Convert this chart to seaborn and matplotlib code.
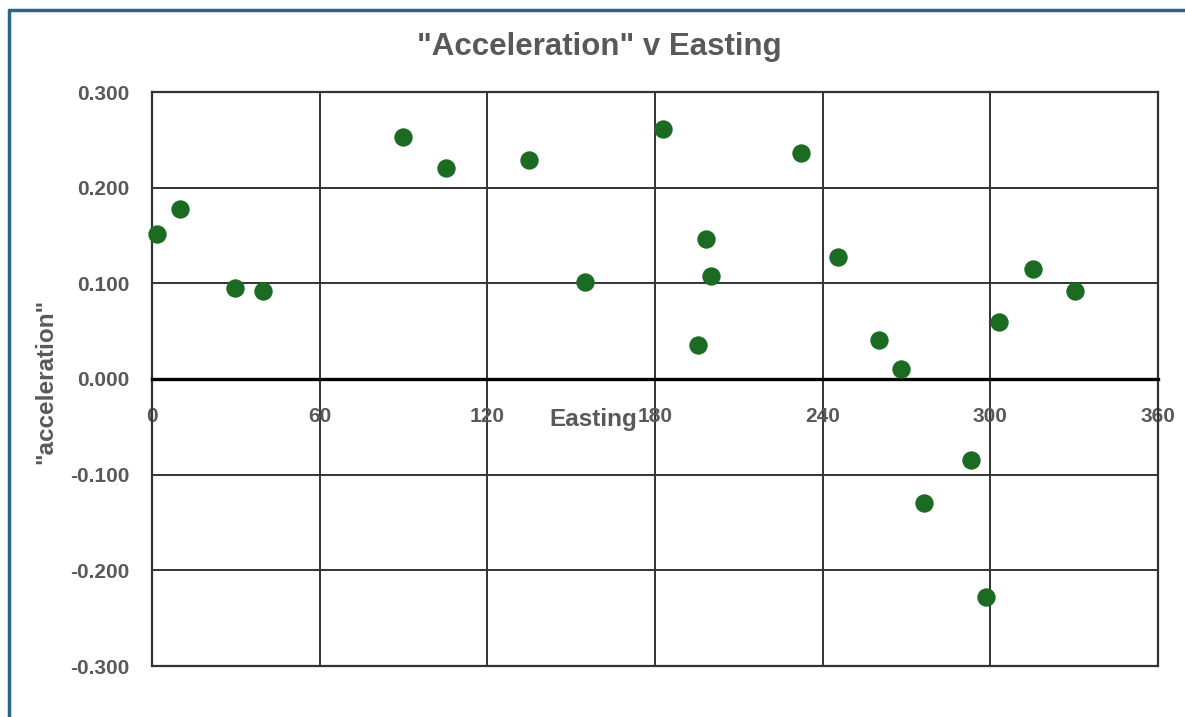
"""Excel-style scatter: "Acceleration" v Easting."""

import matplotlib
matplotlib.use("Agg")
import matplotlib.pyplot as plt
from matplotlib.lines import Line2D
from matplotlib.ticker import FormatStrFormatter, MultipleLocator
import pandas as pd
import seaborn as sns

# values
easting = [1.8, 10.0, 29.7, 39.7, 89.8, 105.2, 134.9, 155.0, 182.9, 195.4, 198.3,
           200.1, 232.3, 245.5, 260.2, 268.1, 276.3, 293.1, 298.5, 303.2, 315.3, 330.4]
acceleration = [0.152, 0.178, 0.095, 0.092, 0.253, 0.221, 0.229, 0.101, 0.261, 0.036, 0.146,
                0.108, 0.236, 0.128, 0.041, 0.010, -0.130, -0.085, -0.228, 0.060, 0.115, 0.092]
x_ticks = [0, 60, 120, 180, 240, 300, 360]

TEXT = "#595959"
GRID = "#333333"
GREEN = "#1b6b23"

sns.set_theme(style="white")
plt.rcParams["font.family"] = ["Liberation Sans", "DejaVu Sans"]
plt.rcParams["font.weight"] = "bold"

df = pd.DataFrame({"Easting": easting, "acceleration": acceleration})

fig = plt.figure(figsize=(11.85, 7.17), dpi=100)
ax = fig.add_axes([152 / 1185, 1 - 666 / 717, 1006 / 1185, 574 / 717])

sns.scatterplot(data=df, x="Easting", y="acceleration", ax=ax, s=175,
                color=GREEN, edgecolor=GREEN, linewidth=0, zorder=4, clip_on=False)

ax.set_xlim(0, 360)
ax.set_ylim(-0.3, 0.3)
ax.set_xticks(x_ticks)
ax.yaxis.set_major_locator(MultipleLocator(0.1))
ax.yaxis.set_major_formatter(FormatStrFormatter("%.3f"))

ax.grid(True, color=GRID, linewidth=1.4, zorder=1)
ax.set_axisbelow(True)

# frame around the plot area
for side in ["top", "left", "right"]:
    ax.spines[side].set_color(GRID)
    ax.spines[side].set_linewidth(1.6)
ax.axhline(-0.3, color=GRID, linewidth=1.6, clip_on=False, zorder=2)

# Excel puts the category axis on y = 0
ax.spines["bottom"].set_position(("data", 0))
ax.spines["bottom"].set_color("black")
ax.spines["bottom"].set_linewidth(2.4)
ax.spines["bottom"].set_zorder(3)

ax.tick_params(axis="x", length=0, pad=20, labelsize=15, labelcolor=TEXT)
ax.tick_params(axis="y", length=0, pad=16, labelsize=15, labelcolor=TEXT)
for lbl in ax.get_xticklabels() + ax.get_yticklabels():
    lbl.set_fontweight("bold")

ax.set_xlabel("Easting", fontsize=17.5, fontweight="bold", color=TEXT)
ax.set_ylabel('"acceleration"', fontsize=17.5, fontweight="bold", color=TEXT)
ax.xaxis.set_label_coords(0.439, 0.45)
ax.yaxis.set_label_coords(-0.094, 0.496)

fig.text(0.506, 1 - 47 / 717, '"Acceleration" v Easting', ha="center", va="center",
         fontsize=22.5, fontweight="bold", color=TEXT)

# chart area border (left and top edges visible)
BORDER = "#2b6584"
fig.add_artist(Line2D([9 / 1185, 9 / 1185], [0, 1 - 10 / 717], color=BORDER, linewidth=2.5))
fig.add_artist(Line2D([9 / 1185, 1], [1 - 10 / 717, 1 - 10 / 717], color=BORDER, linewidth=2.5))

fig.savefig("out.png", dpi=100)
plt.close(fig)
